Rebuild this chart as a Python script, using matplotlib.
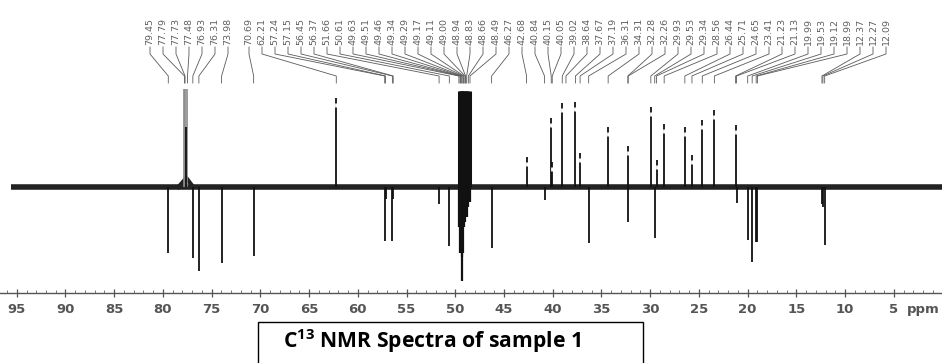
import numpy as np
import matplotlib
matplotlib.use("Agg")
import matplotlib.pyplot as plt
from matplotlib.patches import Rectangle

# peak labels printed above the spectrum (ppm)
label_ppm = [79.45, 77.79, 77.73, 77.48, 76.93, 76.31, 73.98,
             70.69, 62.21, 57.24, 57.15, 56.45, 56.37, 51.66, 50.61,
             49.63, 49.51, 49.46, 49.34, 49.29, 49.17, 49.11, 49.00,
             48.94, 48.83, 48.66, 48.49, 46.27, 42.68, 40.84, 40.15,
             40.05, 39.02, 38.64, 37.67, 37.19, 36.31, 34.31, 32.28,
             32.26, 29.93, 29.53, 29.34, 28.56, 26.44, 25.71, 24.65,
             23.41, 21.23, 21.13, 19.99, 19.53, 19.12, 18.99, 12.37,
             12.27, 12.09]

# positive (up) peaks
pos_ppm = [77.62, 62.21, 42.68, 40.15, 40.05, 39.02, 37.67, 37.19,
           34.31, 32.26, 29.93, 29.34, 28.56, 26.44, 25.71, 24.65,
           23.41, 21.23]
pos_int = [60, 89, 30, 69, 25, 84, 85, 34,
           60, 41, 80, 27, 63, 60, 32, 67,
           77, 62]

# solvent lines
cdcl3_ppm = [77.79, 77.73, 77.48]
cdcl3_int = [98, 98, 98]
cd3od_ppm = [49.63, 49.51, 49.46, 49.34, 49.29, 49.17, 49.11, 49.00,
             48.94, 48.83, 48.66, 48.49]
cd3od_up = [96, 96, 96, 96, 96, 96, 96, 96, 96, 96, 96, 96]
cd3od_down = [-40, -66, -66, -94, -70, -66, -40, -35, -30, -30, -20, -15]

# negative (down) peaks
neg_ppm = [79.45, 76.93, 76.31, 73.98, 70.69, 57.24, 57.15, 56.45,
           56.37, 51.66, 50.61, 46.27, 40.84, 36.31, 32.28, 29.53,
           21.13, 19.99, 19.53, 19.12, 18.99, 12.37, 12.27, 12.09]
neg_int = [-66, -71, -84, -76, -69, -54, -12, -54,
           -12, -17, -59, -61, -13, -56, -35, -51,
           -16, -53, -75, -55, -55, -17, -20, -58]

W, H = 942, 363
xmin, xmax = 96.72, 0.05
ax_bottom = 293  # pixel row of the ppm axis
base_row = 187   # pixel row of the baseline

fig = plt.figure(figsize=(W / 100, H / 100), dpi=100)
ax = fig.add_axes([0, (H - ax_bottom) / H, 1, ax_bottom / H])
ax.set_xlim(xmin, xmax)
ax.set_ylim(-(ax_bottom - base_row), base_row)

def px2ppm(px):
    return xmin - px / W * (xmin - xmax)

# baseline (noisy band)
ax.plot([95.6, xmax], [0, 0], color="#222222", lw=4.0, solid_capstyle="butt", zorder=2)
ax.plot([78.4, 77.6, 76.9], [0, 9, 0], color="#222222", lw=3, zorder=2)

ax.vlines(cdcl3_ppm, 0, cdcl3_int, color="#8a8a8a", lw=1.2, zorder=3)
ax.vlines(pos_ppm, 0, pos_int, color="#111111", lw=1.3, zorder=3)
ax.vlines(neg_ppm, 0, neg_int, color="#111111", lw=1.3, zorder=3)
ax.vlines(cd3od_ppm, 0, cd3od_up, color="#111111", lw=2.2, zorder=3)
ax.vlines(cd3od_ppm, 0, cd3od_down, color="#111111", lw=1.6, zorder=3)

# little print gaps near the top of the upward peaks
tops = np.array(pos_int[1:])
ax.vlines(pos_ppm[1:], tops - 9, tops - 5, color="white", lw=2.0, zorder=4)

# label fan
label_px = [150 + 13 * i for i in range(7)] + [249 + 13 * i for i in range(len(label_ppm) - 7)]
for px, p in zip(label_px, label_ppm):
    lx = px2ppm(px)
    ax.plot([lx, lx, p, p], [base_row - 47, base_row - 54, base_row - 76, base_row - 83],
            color="#5a5a5a", lw=0.6, zorder=1)
    ax.text(lx, base_row - 45, "%.2f" % p, rotation=90, ha="center", va="bottom",
            fontsize=6.8, color="#606060")

# axis
for s in ["top", "left", "right"]:
    ax.spines[s].set_visible(False)
ax.spines["bottom"].set_color("#555555")
ax.spines["bottom"].set_linewidth(1.0)
ax.set_yticks([])
ax.set_xticks(np.arange(95, 4, -5))
ax.set_xticks(np.arange(96, 0, -1), minor=True)
ax.tick_params(axis="x", which="major", direction="inout", length=6, width=0.9,
               color="#555555", labelsize=9.5, labelcolor="#555555", pad=4)
ax.tick_params(axis="x", which="minor", direction="in", length=2.5, width=0.7, color="#777777")
for t in ax.get_xticklabels():
    t.set_fontweight("bold")
fig.text(923 / W, 1 - 309 / H, "ppm", ha="center", va="center", fontsize=9.5,
         color="#555555", fontweight="bold")

# caption box
plt.rcParams["mathtext.default"] = "regular"
fig.patches.append(Rectangle((258 / W, -0.05), (643 - 258) / W, 0.05 + 1 - 322 / H,
                             transform=fig.transFigure, fill=False, ec="black", lw=1.0))
fig.text(283 / W, 1 - 341 / H, r"C$^{13}$ NMR Spectra of sample 1", ha="left", va="center",
         fontsize=15.2, fontweight="bold", family="Open Sans")

fig.savefig("out.png", dpi=100)
